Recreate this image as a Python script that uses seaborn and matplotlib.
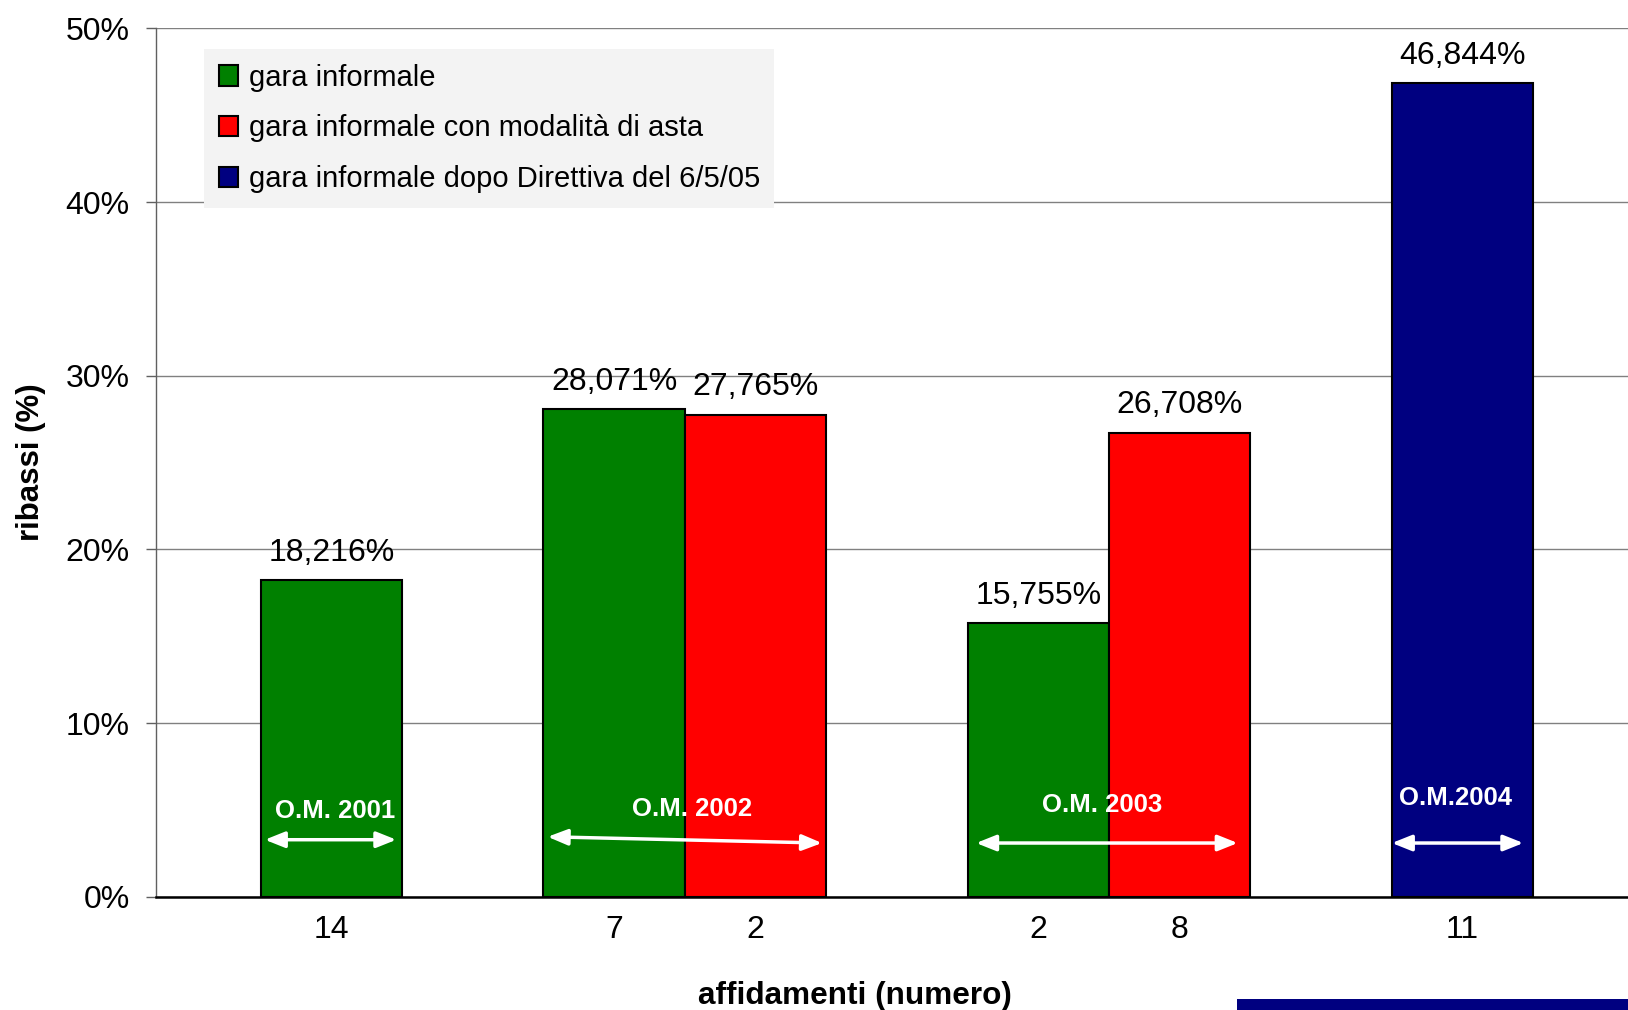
import matplotlib
matplotlib.use("Agg")
import matplotlib.pyplot as plt
import matplotlib.patches as mpatches
import seaborn as sns
import pandas as pd

# ---- data ----
slots = [0, 2, 3, 5, 6, 8]
values = [18.216, 28.071, 27.765, 15.755, 26.708, 46.844]
series = ["gara informale", "gara informale", "gara informale con modalità di asta",
          "gara informale", "gara informale con modalità di asta",
          "gara informale dopo Direttiva del 6/5/05"]
counts = ["14", "7", "2", "2", "8", "11"]
series_order = ["gara informale", "gara informale con modalità di asta",
                "gara informale dopo Direttiva del 6/5/05"]
series_colors = ["#008000", "#FF0000", "#000080"]
om_labels = ["O.M. 2001", "O.M. 2002", "O.M. 2003", "O.M.2004"]
om_label_x = [0.03, 2.55, 5.45, 7.95]
om_label_y = [4.96, 5.08, 5.3, 5.7]
arrow_x0 = [-0.47, 1.53, 4.56, 7.5]
arrow_x1 = [0.46, 3.47, 6.41, 8.43]
arrow_y0 = [3.29, 3.46, 3.1, 3.1]
arrow_y1 = [3.29, 3.1, 3.1, 3.1]
yticks = [0, 10, 20, 30, 40, 50]

df = pd.DataFrame({"slot": slots, "value": values, "series": series})

sns.set_theme(style="white")
plt.rcParams["font.family"] = ["Liberation Sans", "DejaVu Sans"]
plt.rcParams["text.color"] = "black"
plt.rcParams["axes.labelcolor"] = "black"
plt.rcParams["xtick.color"] = "black"
plt.rcParams["ytick.color"] = "black"

fig = plt.figure(figsize=(16.28, 10.10), dpi=100)
ax = fig.add_axes([0.0958, 0.112, 0.9042, 0.860])

sns.barplot(data=df, x="slot", y="value", hue="series", hue_order=series_order,
            palette=series_colors, native_scale=True, dodge=False, width=1.0,
            edgecolor="black", linewidth=1.5, saturation=1, ax=ax, errorbar=None)

ax.set_xlim(-1.24, 9.17)
ax.set_ylim(0, 50)

# grid
ax.set_yticks(yticks)
ax.set_yticklabels([f"{v}%" for v in yticks])
ax.yaxis.grid(True, color="#808080", linewidth=1)
ax.xaxis.grid(False)
ax.set_axisbelow(True)

ax.set_xticks(slots)
ax.set_xticklabels(counts)
ax.tick_params(axis="x", length=0, pad=13, labelsize=23, labelcolor="black")
ax.tick_params(axis="y", length=7, width=1, color="#606060", direction="out",
               pad=12, labelsize=23, left=True, labelcolor="black")

for s in ["top", "right"]:
    ax.spines[s].set_visible(False)
ax.spines["left"].set_color("#606060")
ax.spines["left"].set_linewidth(1)
ax.spines["bottom"].set_color("black")
ax.spines["bottom"].set_linewidth(1.8)

# value labels
for x, v in zip(slots, values):
    ax.annotate(f"{v:.3f}%".replace(".", ","), (x, v), xytext=(0, 9),
                textcoords="offset points", ha="center", va="bottom",
                fontsize=23, color="black")

# O.M. labels and arrows
for lab, lx, ly in zip(om_labels, om_label_x, om_label_y):
    ax.text(lx, ly, lab, ha="center", va="center", color="white",
            fontsize=18.5, fontweight="bold")
for x0, x1, y0, y1 in zip(arrow_x0, arrow_x1, arrow_y0, arrow_y1):
    ax.annotate("", xy=(x1, y1), xytext=(x0, y0),
                arrowprops=dict(arrowstyle="<|-|>,head_length=1.0,head_width=0.4",
                                color="white", lw=2.5, shrinkA=0, shrinkB=0))

# axis labels
ax.set_ylabel("ribassi (%)", fontsize=22.5, fontweight="bold", color="black")
ax.yaxis.set_label_coords(-0.085, 0.5)
ax.yaxis.label.set_va("center")
ax.set_xlabel("affidamenti (numero)", fontsize=22.7, fontweight="bold", color="black")
ax.xaxis.set_label_coords(0.475, -0.114)
ax.xaxis.label.set_va("center")

# legend
handles, labels = ax.get_legend_handles_labels()
leg = ax.legend(handles, labels, loc="upper left", bbox_to_anchor=(0.0326, 0.976),
                fontsize=21, frameon=True, facecolor="#F3F3F3", edgecolor="none",
                framealpha=1, fancybox=False, handlelength=0.68, handleheight=0.68,
                handletextpad=0.35, labelspacing=0.78, borderpad=0.5,
                borderaxespad=0, labelcolor="black")
for h in leg.legend_handles:
    h.set_edgecolor("black")
    h.set_linewidth(1.5)

# decorative strip bottom-right
fig.patches.append(mpatches.Rectangle((0.76, 0), 0.24, 0.0105, transform=fig.transFigure,
                                      facecolor="#000080", edgecolor="none"))

fig.savefig("out.png", dpi=100)
